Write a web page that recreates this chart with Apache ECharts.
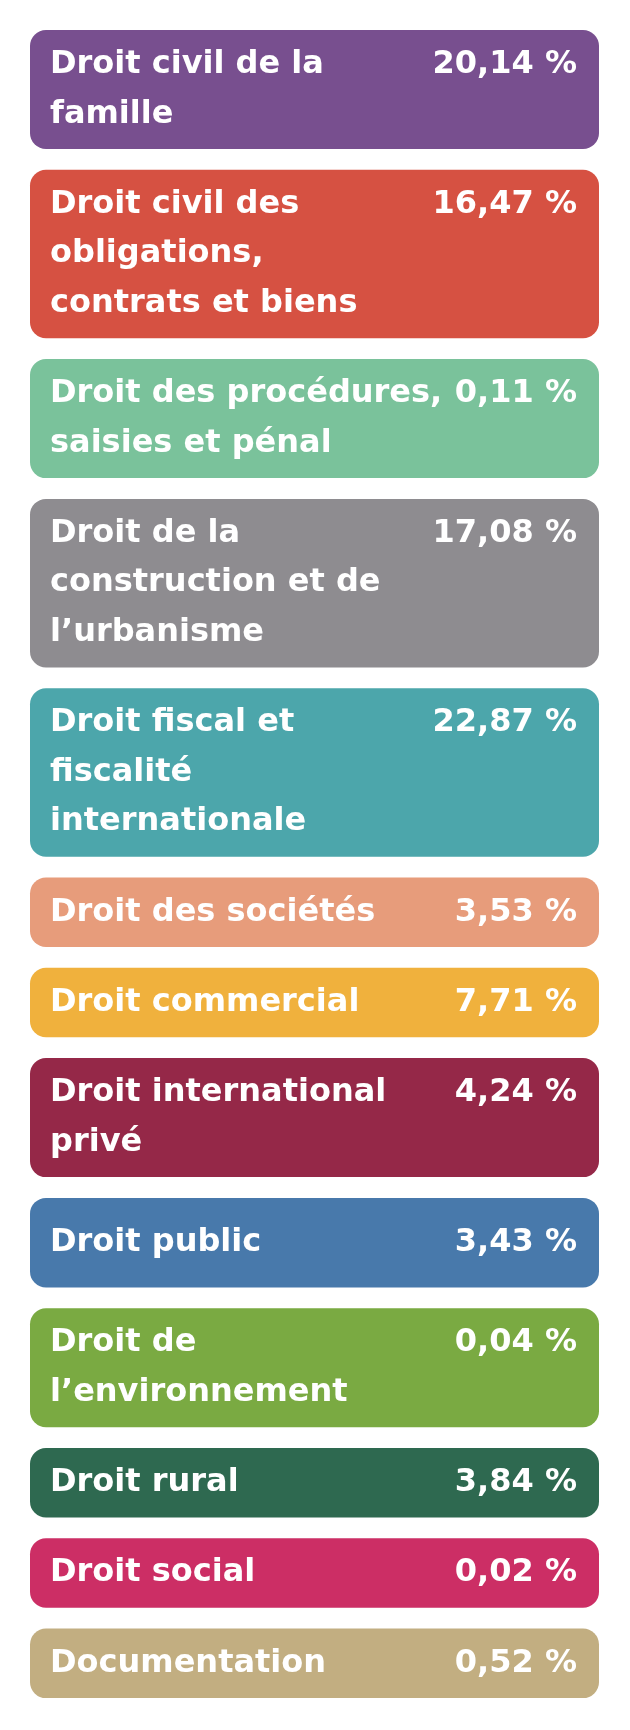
<!DOCTYPE html>
<html>
<head>
<meta charset="utf-8">
<script src="https://cdn.jsdelivr.net/npm/echarts@6/dist/echarts.min.js"></script>
<style>
html,body{margin:0;padding:0;background:#ffffff;}
#chart{width:630px;height:1730px;}
</style>
</head>
<body>
<div id="chart"></div>
<script>
// ---- data ----
const categories = [
  "Droit civil de la\nfamille",
  "Droit civil des\nobligations,\ncontrats et biens",
  "Droit des procédures,\nsaisies et pénal",
  "Droit de la\nconstruction et de\nl’urbanisme",
  "Droit fiscal et\nfiscalité\ninternationale",
  "Droit des sociétés",
  "Droit commercial",
  "Droit international\nprivé",
  "Droit public",
  "Droit de\nl’environnement",
  "Droit rural",
  "Droit social",
  "Documentation"
];
const values = [20.14, 16.47, 0.11, 17.08, 22.87, 3.53, 7.71, 4.24, 3.43, 0.04, 3.84, 0.02, 0.52];

// ---- styles ----
const palette = [
  "#784F8F", "#D65142", "#7AC29B", "#8E8C90", "#4CA6AB", "#E79C7B", "#F0B13D",
  "#952848", "#4879AB", "#7AAA42", "#2E6950", "#CC2E65", "#C2AE81"
];
const LINE_H = 49.5;      // text line height
const PAD_V = 20;         // total vertical padding in a box
const GAP = 20.8;         // space between boxes
const START = 30;         // top of first box
const EXTRA = {"Droit public": 20}; // taller single-line box
const FONT = 'bold 32px "DejaVu Sans"';

// ---- layout (derived from the data) ----
let cursor = START;
const items = categories.map((label, i) => {
  const lines = label.split("\n").length;
  const h = lines * LINE_H + PAD_V + (EXTRA[label] || 0);
  const top = cursor;
  cursor += h + GAP;
  return { value: [i, values[i], top, top + h, lines], label: label };
});

function fmt(v) {
  return v.toFixed(2).replace(".", ",") + " %";
}

const chart = echarts.init(document.getElementById("chart"), null, { renderer: "canvas" });
chart.setOption({
  animation: false,
  backgroundColor: "#ffffff",
  grid: { left: 30, right: 31, top: 0, bottom: 0 },
  xAxis: { type: "value", min: 0, max: 1, show: false },
  yAxis: { type: "value", min: 0, max: 1730, inverse: true, show: false },
  series: [{
    type: "custom",
    data: items,
    renderItem: function (params, api) {
      const i = api.value(0);
      const top = api.value(2);
      const bottom = api.value(3);
      const lines = api.value(4);
      const p0 = api.coord([0, top]);
      const p1 = api.coord([1, bottom]);
      const x = p0[0], y = p0[1];
      const w = p1[0] - p0[0], h = p1[1] - p0[1];
      const firstLineCenter = y + (h - lines * LINE_H) / 2 + LINE_H / 2;
      return {
        type: "group",
        children: [
          {
            type: "rect",
            shape: { x: x, y: y, width: w, height: h, r: 16 },
            style: { fill: palette[i] }
          },
          {
            type: "text",
            style: {
              text: categories[i],
              x: x + 20,
              y: y + h / 2,
              align: "left",
              verticalAlign: "middle",
              font: FONT,
              lineHeight: LINE_H,
              fill: "#ffffff"
            }
          },
          {
            type: "text",
            style: {
              text: fmt(api.value(1)),
              x: x + w - 22,
              y: firstLineCenter,
              align: "right",
              verticalAlign: "middle",
              font: FONT,
              lineHeight: LINE_H,
              fill: "#ffffff"
            }
          }
        ]
      };
    }
  }]
});
</script>
</body>
</html>
